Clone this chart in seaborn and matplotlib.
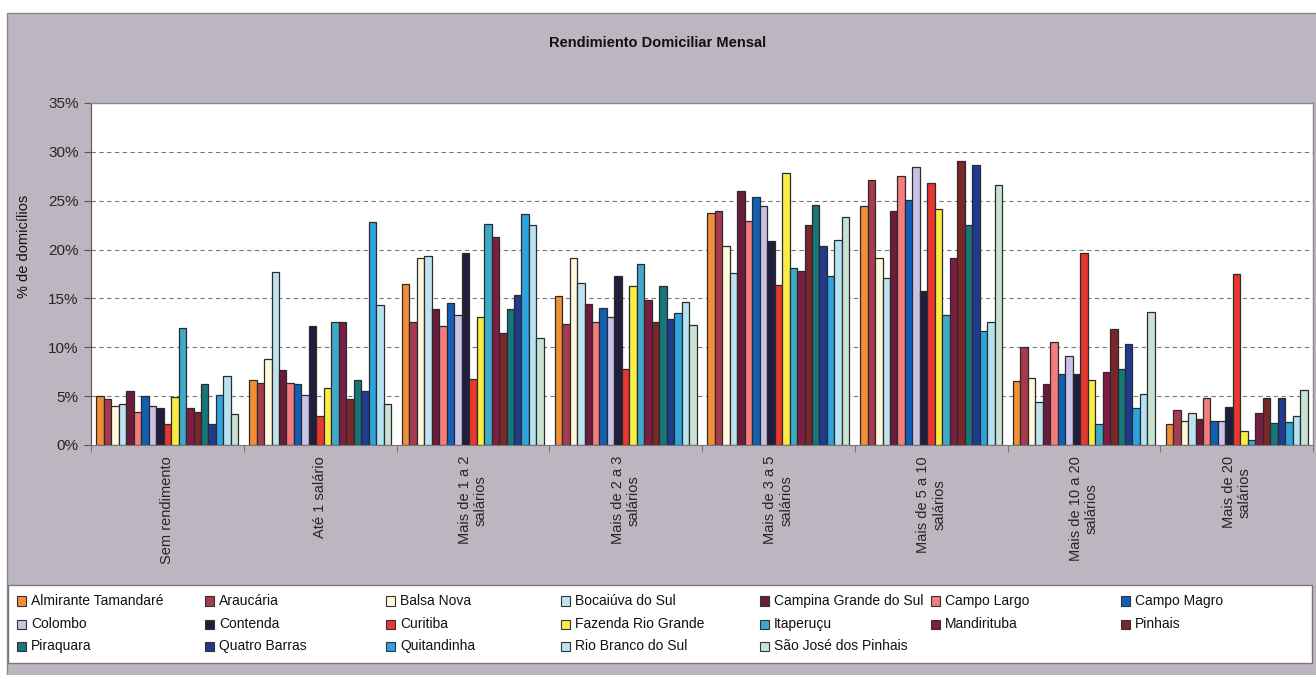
import numpy as np
import pandas as pd
import matplotlib
matplotlib.use("Agg")
import matplotlib.pyplot as plt
from matplotlib.patches import Rectangle
from matplotlib.ticker import FuncFormatter, FixedLocator
import seaborn as sns

# Income brackets (x categories)
categorias = [
    "Sem rendimento",
    "Até 1 salário",
    "Mais de 1 a 2\nsalários",
    "Mais de 2 a 3\nsalários",
    "Mais de 3 a 5\nsalários",
    "Mais de 5 a 10\nsalários",
    "Mais de 10 a 20\nsalários",
    "Mais de 20\nsalários",
]

# Municipalities (series)
municipios = [
    "Almirante Tamandaré", "Araucária", "Balsa Nova", "Bocaiúva do Sul",
    "Campina Grande do Sul", "Campo Largo", "Campo Magro", "Colombo",
    "Contenda", "Curitiba", "Fazenda Rio Grande", "Itaperuçu",
    "Mandirituba", "Pinhais", "Piraquara", "Quatro Barras",
    "Quitandinha", "Rio Branco do Sul", "São José dos Pinhais",
]

cores = [
    "#f28e36", "#a83a50", "#fff8dc", "#bfe3ee",
    "#6c1c3a", "#f47c7c", "#1060b8", "#c8c3e6",
    "#1f1f3d", "#e8372e", "#f9ec45", "#3eaac8",
    "#7e1d44", "#7b2629", "#16767a", "#1f3a8e",
    "#2ea4df", "#b6e2f2", "#c9e3d3",
]

# Share of households (%) per bracket, one value per municipality
sem_rendimento = [5.0, 4.7, 4.0, 4.2, 5.5, 3.4, 5.0, 4.0, 3.8, 2.2, 4.9, 12.0, 3.8, 3.4, 6.2, 2.2, 5.1, 7.1, 3.2]
ate_1 = [6.7, 6.3, 8.8, 17.7, 7.7, 6.3, 6.2, 5.1, 12.2, 3.0, 5.8, 12.6, 12.6, 4.7, 6.7, 5.5, 22.8, 14.3, 4.2]
de_1_a_2 = [16.5, 12.6, 19.1, 19.3, 13.9, 12.2, 14.5, 13.3, 19.6, 6.8, 13.1, 22.6, 21.3, 11.5, 13.9, 15.3, 23.6, 22.5, 11.0]
de_2_a_3 = [15.2, 12.4, 19.1, 16.6, 14.4, 12.6, 14.0, 13.1, 17.3, 7.8, 16.3, 18.5, 14.8, 12.6, 16.3, 12.9, 13.5, 14.6, 12.3]
de_3_a_5 = [23.7, 23.9, 20.4, 17.6, 26.0, 22.9, 25.4, 24.5, 20.9, 16.4, 27.8, 18.1, 17.8, 22.5, 24.6, 20.4, 17.3, 21.0, 23.3]
de_5_a_10 = [24.5, 27.1, 19.1, 17.1, 23.9, 27.5, 25.1, 28.5, 15.8, 26.8, 24.2, 13.3, 19.1, 29.1, 22.5, 28.7, 11.7, 12.6, 26.6]
de_10_a_20 = [6.6, 10.0, 6.9, 4.4, 6.2, 10.5, 7.3, 9.1, 7.3, 19.7, 6.7, 2.2, 7.5, 11.9, 7.8, 10.3, 3.8, 5.2, 13.6]
mais_de_20 = [2.1, 3.6, 2.5, 3.3, 2.7, 4.8, 2.5, 2.5, 3.9, 17.5, 1.4, 0.5, 3.3, 4.8, 2.3, 4.8, 2.4, 3.0, 5.6]

faixas = [sem_rendimento, ate_1, de_1_a_2, de_2_a_3, de_3_a_5, de_5_a_10, de_10_a_20, mais_de_20]

linhas = []
for cat, vals in zip(categorias, faixas):
    for mun, v in zip(municipios, vals):
        linhas.append({"faixa": cat, "municipio": mun, "pct": v})
df = pd.DataFrame(linhas)

sns.set_style("white")
plt.rcParams["font.family"] = ["Liberation Sans", "DejaVu Sans"]

W, H = 1316, 675
fig = plt.figure(figsize=(W / 100, H / 100), dpi=100, facecolor="white")


def fx(x):
    return x / W


def fy(y):
    return 1 - y / H


# grey chart-area backdrop
fig.patches.append(Rectangle((fx(7), fy(H + 5)), fx(W + 10 - 7), fy(13) - fy(H + 5),
                             transform=fig.transFigure, facecolor="#bdb6c1",
                             edgecolor="#8c8890", linewidth=1.0, zorder=-10))

ax_l, ax_r, ax_t, ax_b = 91, 1313, 103, 445
ax = fig.add_axes([fx(ax_l), fy(ax_b), fx(ax_r - ax_l), fy(ax_t) - fy(ax_b)])
ax.set_facecolor("white")

sns.barplot(data=df, x="faixa", y="pct", hue="municipio", order=categorias,
            hue_order=municipios, palette=cores, saturation=1, width=0.93, gap=0,
            edgecolor="#2b2b2b", linewidth=0.9, legend=False, ax=ax, zorder=3)

ax.set_ylim(0, 35)
ax.set_xlim(-0.5, len(categorias) - 0.5)
ax.yaxis.set_major_locator(FixedLocator(np.arange(0, 36, 5)))
ax.yaxis.set_major_formatter(FuncFormatter(lambda v, p: f"{v:.0f}%"))
for g in np.arange(5, 35, 5):
    ax.axhline(g, color="#7a7a7a", linewidth=0.8, linestyle=(0, (4, 3)), zorder=1)

ax.tick_params(axis="y", direction="out", length=5, width=0.8, color="#555555",
               labelsize=11, pad=4, left=True)
ax.tick_params(axis="x", which="major", length=0, labelsize=10.5, pad=8)
ax.set_xticks(range(len(categorias)))
ax.set_xticklabels(categorias, rotation=90, ha="center", va="top",
                   multialignment="center", linespacing=1.2)
ax.set_xticks(np.arange(-0.5, len(categorias), 1), minor=True)
ax.tick_params(axis="x", which="minor", bottom=True, direction="out", length=5,
               width=0.8, color="#777777")

ax.set_xlabel("")
ax.set_ylabel("% de domicílios", fontsize=10.5, color="#111111")
ax.yaxis.set_label_coords(-0.049, 0.58)

for side in ["top", "right"]:
    ax.spines[side].set_color("#8a8a8a")
    ax.spines[side].set_linewidth(1.0)
ax.spines["left"].set_color("#555555")
ax.spines["bottom"].set_color("#777777")
for s in ax.spines.values():
    s.set_visible(True)
    s.set_zorder(5)

fig.text(fx(658), fy(43), "Rendimiento Domiciliar Mensal", ha="center", va="center",
         fontsize=10.5, fontweight="bold", color="#111111")

# legend box
fig.patches.append(Rectangle((fx(8), fy(663)), fx(1312 - 8), fy(585) - fy(663),
                             transform=fig.transFigure, facecolor="white",
                             edgecolor="#777777", linewidth=1.0, zorder=-5))
col_x = [17, 205, 386, 561, 760, 931, 1121]
row_y = [601, 624, 646]
sq = 9
for i, (mun, cor) in enumerate(zip(municipios, cores)):
    r, c = divmod(i, 7)
    x0, yc = col_x[c], row_y[r]
    fig.patches.append(Rectangle((fx(x0), fy(yc + sq / 2)), fx(sq), fy(yc - sq / 2) - fy(yc + sq / 2),
                                 transform=fig.transFigure, facecolor=cor,
                                 edgecolor="#333333", linewidth=0.8, zorder=2))
    fig.text(fx(x0 + 14), fy(yc), mun, ha="left", va="center", fontsize=10,
             color="#111111")

fig.savefig("out.png", dpi=100, facecolor="white")
